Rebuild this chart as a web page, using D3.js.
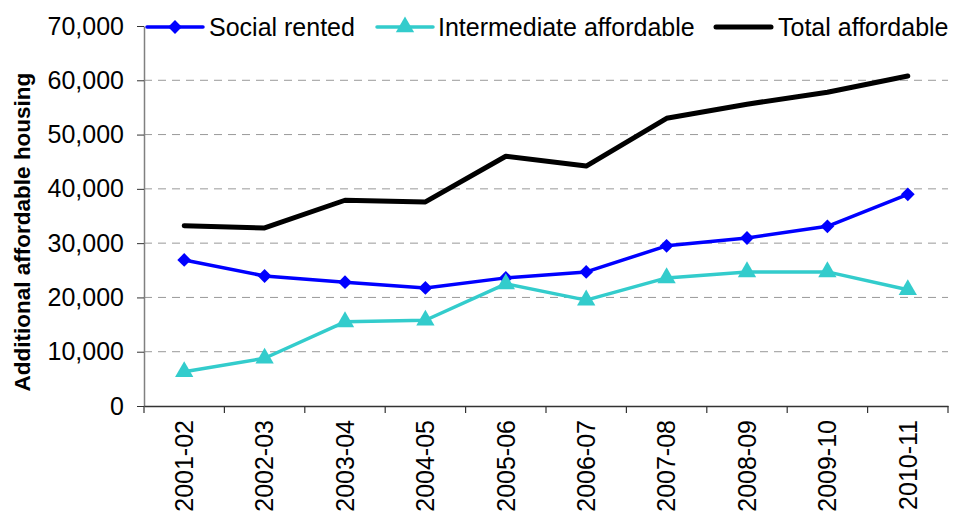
<!DOCTYPE html>
<html>
<head>
<meta charset="utf-8">
<script src="https://cdn.jsdelivr.net/npm/d3@7"></script>
<style>
  body { margin: 0; background: #fff; }
  svg { display: block; font-family: "Liberation Sans", Arial, sans-serif; }
</style>
</head>
<body>
<svg id="chart" width="953" height="520"></svg>
<script>
const years = ["2001-02", "2002-03", "2003-04", "2004-05", "2005-06",
  "2006-07", "2007-08", "2008-09", "2009-10", "2010-11"];
const socialRented = [26900, 23950, 22800, 21750, 23600, 24700, 29500, 30950, 33100, 39000];
const intermediate = [6300, 8800, 15500, 15800, 22500, 19500, 23600, 24700, 24700, 21400];
const totalAffordable = [33200, 32800, 37900, 37600, 46000, 44200, 53000, 55600, 57800, 60800];
const yTicks = [0, 10000, 20000, 30000, 40000, 50000, 60000, 70000];

const margin = { left: 144, right: 5, top: 26, bottom: 114 };
const width = 953, height = 520;
const fontSize = 25;

const svg = d3.select("#chart");

const x = d3.scaleBand()
  .domain(years)
  .range([margin.left, width - margin.right]);

const y = d3.scaleLinear()
  .domain([0, 70000])
  .range([height - margin.bottom, margin.top]);

// gridlines
svg.append("g")
  .selectAll("line")
  .data(yTicks.filter(d => d > 0 && d < 70000))
  .join("line")
  .attr("x1", margin.left)
  .attr("x2", width - margin.right)
  .attr("y1", d => y(d))
  .attr("y2", d => y(d))
  .attr("stroke", "#999")
  .attr("stroke-width", 1)
  .attr("stroke-dasharray", "8,6");

// y axis
const yAxis = svg.append("g")
  .attr("transform", `translate(${margin.left},0)`)
  .call(d3.axisLeft(y).tickValues(yTicks).tickFormat(d3.format(",")).tickSize(7).tickSizeOuter(0));
yAxis.select(".domain").attr("stroke", "#808080").attr("stroke-width", 1.5);
yAxis.selectAll(".tick line").attr("stroke", "#333");
yAxis.selectAll("text")
  .attr("font-size", fontSize)
  .attr("font-family", "Liberation Sans, Arial, sans-serif")
  .attr("fill", "#000")
  .attr("x", -20);

// x axis
const xAxis = svg.append("g")
  .attr("transform", `translate(0,${y(0)})`)
  .call(d3.axisBottom(x).tickSize(0));
xAxis.select(".domain").attr("stroke", "#333").attr("stroke-width", 1.5);
xAxis.selectAll(".tick text")
  .attr("font-size", fontSize)
  .attr("font-family", "Liberation Sans, Arial, sans-serif")
  .attr("fill", "#000")
  .attr("transform", "rotate(-90)")
  .attr("text-anchor", "end")
  .attr("x", -14)
  .attr("y", 0)
  .attr("dy", "0.35em");

// category boundary ticks
const bounds = years.map(d => x(d)).concat([x.range()[1]]);
svg.append("g")
  .selectAll("line")
  .data(bounds)
  .join("line")
  .attr("x1", d => d)
  .attr("x2", d => d)
  .attr("y1", y(0))
  .attr("y2", y(0) + 7)
  .attr("stroke", "#333")
  .attr("stroke-width", 1.2);

// y title
svg.append("text")
  .attr("transform", `translate(30,${(y(0) + y(70000)) / 2 + 16}) rotate(-90)`)
  .attr("text-anchor", "middle")
  .attr("font-size", 22.5)
  .attr("font-weight", "bold")
  .text("Additional affordable housing");

const cx = d => x(d) + x.bandwidth() / 2;

const series = [
  { name: "Social rented", values: socialRented, color: "#0000FF", width: 3.5, marker: "diamond" },
  { name: "Intermediate affordable", values: intermediate, color: "#33CCCC", width: 3.5, marker: "triangle" },
  { name: "Total affordable", values: totalAffordable, color: "#000000", width: 5, marker: null }
];

const line = d3.line()
  .x(d => cx(d.year))
  .y(d => y(d.value));

const symbolFor = m => m === "diamond"
  ? d3.symbol().type(d3.symbolSquare).size(95)()
  : d3.symbol().type(d3.symbolTriangle).size(145)();

series.forEach(s => {
  const pts = years.map((yr, i) => ({ year: yr, value: s.values[i] }));
  svg.append("path")
    .datum(pts)
    .attr("fill", "none")
    .attr("stroke", s.color)
    .attr("stroke-width", s.width)
    .attr("stroke-linejoin", "round")
    .attr("stroke-linecap", "round")
    .attr("d", line);
  if (s.marker) {
    svg.append("g")
      .selectAll("path")
      .data(pts)
      .join("path")
      .attr("d", symbolFor(s.marker))
      .attr("transform", d => `translate(${cx(d.year)},${y(d.value)})` + (s.marker === "diamond" ? " rotate(45)" : ""))
      .attr("fill", s.color);
  }
});

// legend
const legendItems = [
  { s: series[0], x0: 147, x1: 203, tx: 209 },
  { s: series[1], x0: 377, x1: 433, tx: 438 },
  { s: series[2], x0: 716, x1: 771, tx: 778 }
];
const ly = 27;
const legend = svg.append("g");
legendItems.forEach(it => {
  legend.append("line")
    .attr("x1", it.x0).attr("x2", it.x1)
    .attr("y1", ly).attr("y2", ly)
    .attr("stroke", it.s.color)
    .attr("stroke-width", it.s.width)
    .attr("stroke-linecap", "round");
  if (it.s.marker) {
    legend.append("path")
      .attr("d", symbolFor(it.s.marker))
      .attr("transform", `translate(${(it.x0 + it.x1) / 2},${ly})` + (it.s.marker === "diamond" ? " rotate(45)" : ""))
      .attr("fill", it.s.color);
  }
  legend.append("text")
    .attr("x", it.tx)
    .attr("y", ly)
    .attr("dy", "0.35em")
    .attr("font-size", fontSize)
    .text(it.s.name);
});
</script>
</body>
</html>
